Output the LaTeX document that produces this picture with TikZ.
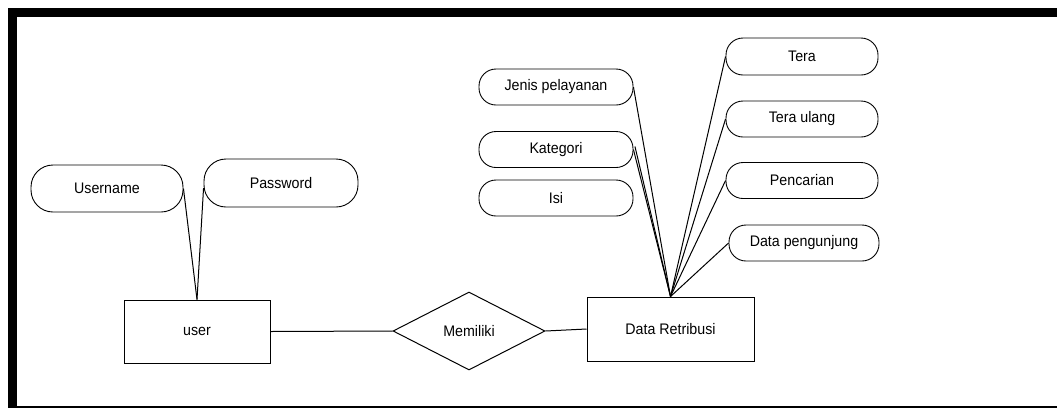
\documentclass[tikz,border=0pt]{standalone}
\usepackage{fontspec}
\setmainfont[FakeStretch=0.93]{Liberation Sans}
\usetikzlibrary{shapes.geometric}
\begin{document}
\begin{tikzpicture}[x=1pt,y=-1pt,
  every node/.style={font=\fontsize{15.3}{17}\selectfont, inner sep=0pt},
  entity/.style={draw, line width=1pt, minimum width=#1, minimum height=63pt},
  attr/.style={draw, line width=0.9pt, rounded corners=17pt, minimum height=36pt, minimum width=#1},
  attrtall/.style={draw, line width=0.9pt, rounded corners=22pt, minimum height=47pt, minimum width=#1},
  relation/.style={draw, line width=1pt, diamond, aspect=1.95, minimum width=152pt, minimum height=78pt},
  link/.style={line width=1pt}]
  \useasboundingbox (0,0) rectangle (1057,408);
  % frame
  \fill (8,8) rectangle (1057,17);
  \fill (8,8) rectangle (17,408);
  \draw[line width=1.5pt] (8,406.8) -- (1057,406.8);

  % entities and relation
  \node[entity=146pt] (user) at (197,331.5) {user};
  \node[entity=167pt, minimum height=64pt] (data) at (670.5,329) {Data Retribusi};
  \node[relation] (rel) at (469,331) {Memiliki};

  % attributes of user
  \node[attrtall=152pt] (uname) at (107,188.5) {Username};
  \node[attrtall=154pt, minimum height=48pt] (pass) at (281,183) {Password};

  % attributes of Data Retribusi (left column)
  \node[attr=154pt] (jenis) at (556,87) {Jenis pelayanan};
  \node[attr=154pt] (kat) at (556,149.5) {Kategori};
  \node[attr=154pt] (isi) at (556,198) {Isi};

  % attributes of Data Retribusi (right column)
  \node[attr=152pt, minimum height=37pt] (tera) at (802,56.5) {Tera};
  \node[attr=152pt] (ulang) at (802,119) {Tera ulang};
  \node[attr=152pt] (cari) at (802,180.5) {Pencarian};
  \node[attr=150pt] (pengunjung) at (804,243) {Data pengunjung};

  % connectors
  \draw[link] (user.east) -- (rel.west);
  \draw[link] (rel.east) -- (data.west);
  \draw[link] (uname.east) -- (user.north);
  \draw[link] ([yshift=-5pt]pass.west) -- (user.north);
  \draw[link] (jenis.east) -- (data.north);
  \draw[link] (kat.east) -- (data.north);
  \draw[link] ([xshift=1.5pt,yshift=3pt]kat.east) -- (data.north);
  \draw[link] (tera.west) -- (data.north);
  \draw[link] (ulang.west) -- (data.north);
  \draw[link] (cari.west) -- (data.north);
  \draw[link] (pengunjung.west) -- (data.north);
\end{tikzpicture}
\end{document}
